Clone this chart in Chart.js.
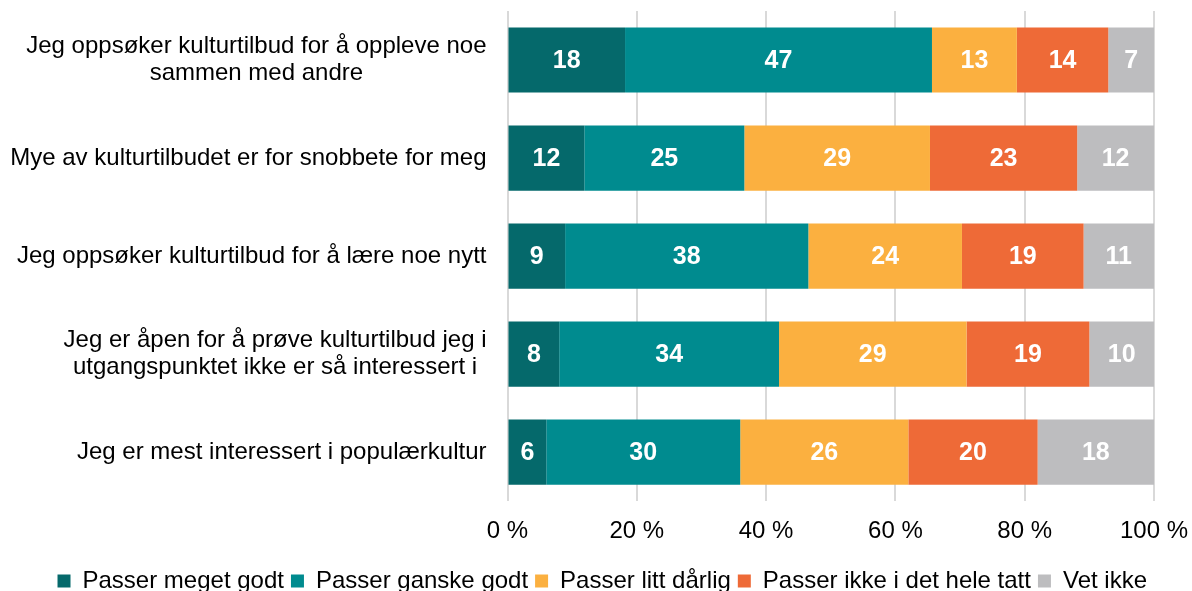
<!DOCTYPE html>
<html>
<head>
<meta charset="utf-8">
<script src="https://cdn.jsdelivr.net/npm/chart.js@4.4.1/dist/chart.umd.min.js"></script>
<style>
  html, body { margin: 0; padding: 0; background: #fff; overflow: hidden; }
  #wrap { width: 1192px; height: 603px; }
</style>
</head>
<body>
<div id="wrap"><canvas id="myChart"></canvas></div>
<script>
// kategorier (en rad per påstand, linjeskift som egne linjer)
var categories = [
    ['Jeg oppsøker kulturtilbud for å oppleve noe', 'sammen med andre'],
    ['Mye av kulturtilbudet er for snobbete for meg'],
    ['Jeg oppsøker kulturtilbud for å lære noe nytt'],
    ['Jeg er åpen for å prøve kulturtilbud jeg i', 'utgangspunktet ikke er så interessert i'],
    ['Jeg er mest interessert i populærkultur']
];

var seriesNames = ['Passer meget godt', 'Passer ganske godt', 'Passer litt dårlig', 'Passer ikke i det hele tatt', 'Vet ikke'];

var meget  = [18, 12, 9, 8, 6];
var ganske = [47, 25, 38, 34, 30];
var litt   = [13, 29, 24, 29, 26];
var ikke   = [14, 23, 19, 19, 20];
var vetIkke = [7, 12, 11, 10, 18];

var xTicks = ['0 %', '20 %', '40 %', '60 %', '80 %', '100 %'];

var colors = ['#05696b', '#008b8f', '#fbb040', '#ee6a37', '#bdbdbf'];

var FONT = "'Liberation Sans', Arial, sans-serif";

var raw = [meget, ganske, litt, ikke, vetIkke];
var totals = categories.map(function (c, i) {
    return raw.reduce(function (s, arr) { return s + arr[i]; }, 0);
});

var datasets = raw.map(function (arr, k) {
    return {
        label: seriesNames[k],
        raw: arr,
        data: arr.map(function (v, i) { return v / totals[i] * 100; }),
        backgroundColor: colors[k],
        borderWidth: 0,
        categoryPercentage: 0.665,
        barPercentage: 1.0
    };
});

// tallene inne i stolpene
var valueLabels = {
    id: 'valueLabels',
    afterDatasetsDraw: function (chart) {
        var ctx = chart.ctx;
        ctx.save();
        ctx.font = 'bold 25px ' + FONT;
        ctx.fillStyle = '#ffffff';
        ctx.textAlign = 'center';
        ctx.textBaseline = 'middle';
        chart.data.datasets.forEach(function (ds, k) {
            chart.getDatasetMeta(k).data.forEach(function (bar, i) {
                ctx.fillText(String(ds.raw[i]), (bar.x + bar.base) / 2, bar.y + 1);
            });
        });
        ctx.restore();
    }
};

// kategoritekster til venstre, flere linjer sentrert mot hverandre
var categoryLabels = {
    id: 'categoryLabels',
    afterDraw: function (chart) {
        var ctx = chart.ctx;
        var y = chart.scales.y;
        var right = chart.chartArea.left - 21;
        ctx.save();
        ctx.font = '24px ' + FONT;
        ctx.fillStyle = '#000000';
        ctx.textBaseline = 'middle';
        ctx.textAlign = 'center';
        categories.forEach(function (lines, i) {
            var cy = y.getPixelForValue(i);
            var lh = 27;
            var w = Math.max.apply(null, lines.map(function (l) { return ctx.measureText(l).width; }));
            var cx = right - w / 2;
            lines.forEach(function (l, j) {
                ctx.fillText(l, cx, cy + (j - (lines.length - 1) / 2) * lh);
            });
        });
        ctx.restore();
    }
};

new Chart(document.getElementById('myChart'), {
    type: 'bar',
    data: {
        labels: categories.map(function (c) { return c.join(' '); }),
        datasets: datasets
    },
    options: {
        indexAxis: 'y',
        responsive: true,
        maintainAspectRatio: false,
        animation: false,
        layout: {
            padding: { left: 0, right: 38, top: 11, bottom: 0 }
        },
        scales: {
            x: {
                stacked: true,
                min: 0,
                max: 100,
                afterFit: function (scale) { scale.height += 16; },
                ticks: {
                    stepSize: 20,
                    padding: 0,
                    color: '#000',
                    font: { family: FONT, size: 24 },
                    callback: function (v) { return xTicks[v / 20]; }
                },
                grid: { color: '#d9d9d9', lineWidth: 2, drawTicks: true, tickLength: 16, tickColor: 'rgba(0,0,0,0)' },
                border: { display: false }
            },
            y: {
                stacked: true,
                afterFit: function (scale) { scale.width = 507.5; },
                ticks: { display: false },
                grid: { display: false },
                border: { display: false }
            }
        },
        plugins: {
            legend: {
                position: 'bottom',
                align: 'end',
                labels: {
                    boxWidth: 13,
                    boxHeight: 13,
                    padding: 7,
                    color: '#000',
                    font: { family: FONT, size: 24 }
                }
            },
            tooltip: { enabled: false }
        }
    },
    plugins: [valueLabels, categoryLabels]
});
</script>
</body>
</html>
